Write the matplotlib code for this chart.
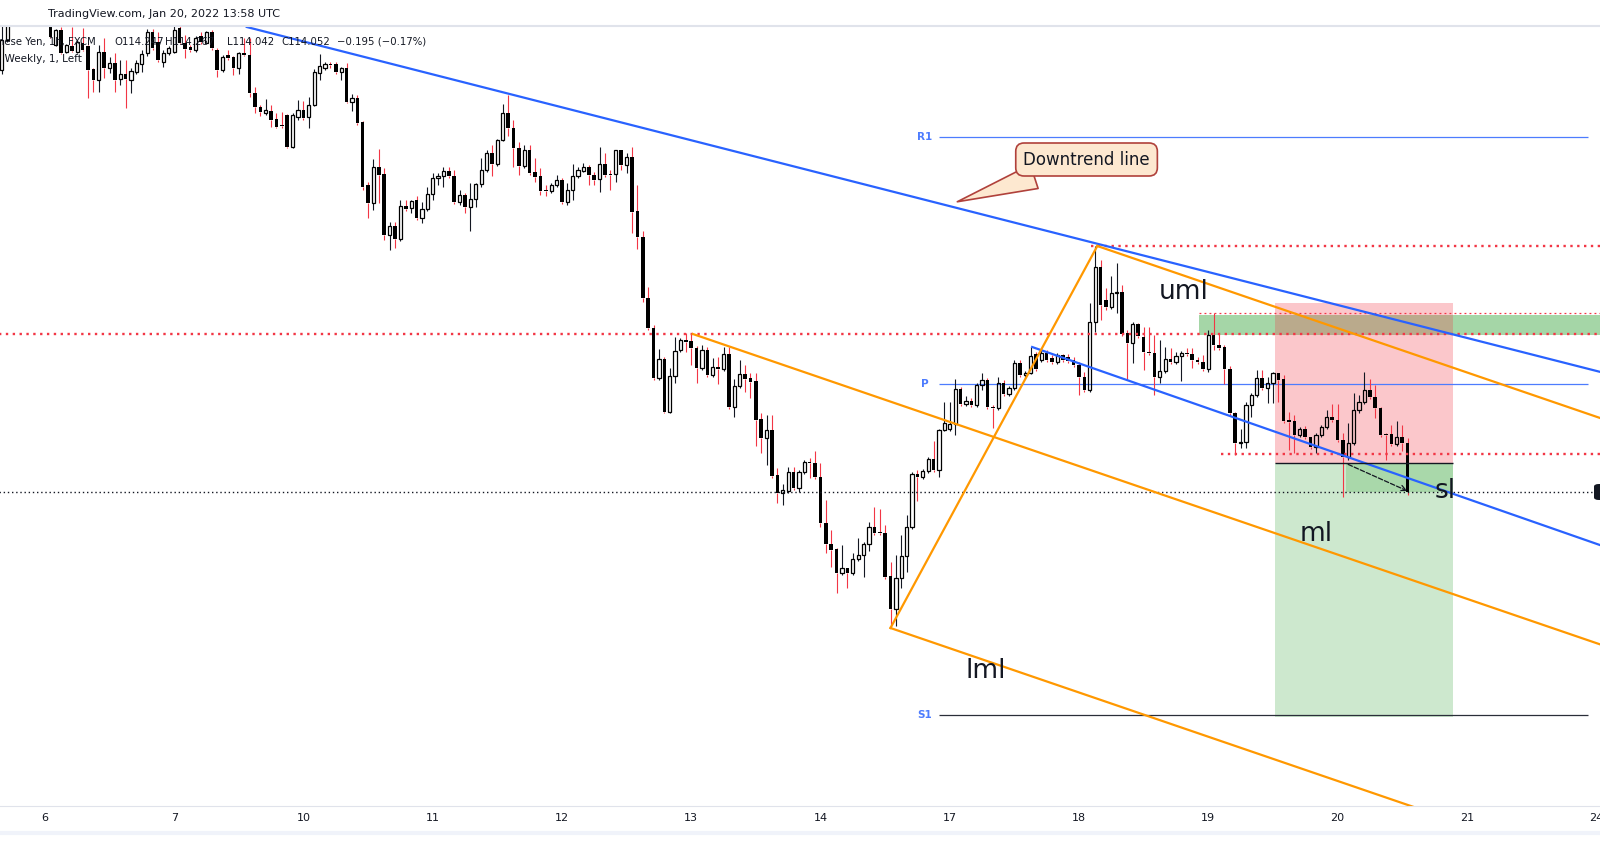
import numpy as np
import matplotlib.pyplot as plt
from matplotlib.patches import FancyBboxPatch

# USD/JPY 1h candles, index 0 = Jan 6 00:00 UTC (weekend bars collapsed)
idx = np.arange(-8, 254)

opens = [115.74, 115.86, 115.948, 115.98, 115.96, 115.988, 115.972, 116.0,
         115.964, 115.924, 115.84, 115.90, 115.812, 115.836, 115.812, 115.848, 115.836, 115.744,
         115.70, 115.812, 115.748, 115.768, 115.704, 115.724, 115.70, 115.732, 115.764, 115.808,
         115.892, 115.852, 115.772, 115.808, 115.812, 115.908, 115.848, 115.832, 115.82, 115.876,
         115.848, 115.892, 115.82, 115.74, 115.80, 115.792, 115.748, 115.808, 115.80, 115.648,
         115.592, 115.568, 115.576, 115.544, 115.52, 115.56, 115.432, 115.552, 115.58, 115.552,
         115.60, 115.728, 115.748, 115.764, 115.764, 115.732, 115.748, 115.612, 115.628, 115.532,
         115.28, 115.208, 115.352, 115.324, 115.08, 115.116, 115.064, 115.196, 115.188, 115.22,
         115.148, 115.184, 115.244, 115.308, 115.316, 115.336, 115.316, 115.212, 115.24, 115.192,
         115.224, 115.284, 115.34, 115.408, 115.364, 115.46, 115.568, 115.508, 115.428, 115.356,
         115.42, 115.332, 115.316, 115.26, 115.256, 115.28, 115.30, 115.212, 115.26, 115.316,
         115.336, 115.352, 115.32, 115.304, 115.364, 115.324, 115.324, 115.42, 115.36, 115.392,
         115.176, 115.072, 114.828, 114.708, 114.508, 114.584, 114.372, 114.516, 114.62, 114.66,
         114.656, 114.628, 114.548, 114.62, 114.52, 114.552, 114.544, 114.604, 114.392, 114.476,
         114.524, 114.508, 114.496, 114.344, 114.268, 114.30, 114.12, 114.048, 114.056, 114.132,
         114.068, 114.132, 114.172, 114.168, 114.112, 113.928, 113.844, 113.824, 113.728, 113.748,
         113.728, 113.784, 113.80, 113.844, 113.912, 113.892, 113.888, 113.716, 113.584, 113.708,
         113.796, 113.912, 114.124, 114.112, 114.136, 114.184, 114.14, 114.30, 114.304, 114.324,
         114.464, 114.404, 114.416, 114.40, 114.48, 114.50, 114.392, 114.388, 114.488, 114.444,
         114.468, 114.568, 114.52, 114.528, 114.604, 114.58, 114.608, 114.588, 114.572, 114.60,
         114.592, 114.58, 114.56, 114.512, 114.46, 114.732, 114.952, 114.82, 114.792, 114.848,
         114.852, 114.688, 114.648, 114.724, 114.672, 114.612, 114.608, 114.512, 114.536, 114.584,
         114.572, 114.596, 114.608, 114.604, 114.58, 114.572, 114.544, 114.68, 114.64, 114.632,
         114.544, 114.368, 114.248, 114.252, 114.40, 114.44, 114.508, 114.468, 114.488, 114.528,
         114.504, 114.34, 114.336, 114.28, 114.304, 114.272, 114.232, 114.28, 114.312, 114.352,
         114.34, 114.26, 114.192, 114.248, 114.38, 114.412, 114.46, 114.432, 114.388, 114.284,
         114.284, 114.244, 114.272, 114.247]

highs = [115.92, 115.98, 116.00, 116.008, 116.02, 116.012, 116.04, 116.02,
         115.988, 115.96, 115.904, 115.912, 115.844, 115.912, 115.86, 115.908, 115.84, 115.748,
         115.84, 115.868, 115.792, 115.808, 115.78, 115.78, 115.748, 115.78, 115.82, 115.904,
         115.904, 115.892, 115.82, 115.836, 115.916, 115.916, 115.88, 115.84, 115.876, 115.892,
         115.896, 115.90, 115.828, 115.80, 115.82, 115.796, 115.812, 115.868, 115.868, 115.672,
         115.60, 115.624, 115.60, 115.568, 115.572, 115.564, 115.568, 115.62, 115.616, 115.632,
         115.744, 115.804, 115.772, 115.772, 115.772, 115.752, 115.768, 115.644, 115.64, 115.536,
         115.292, 115.384, 115.424, 115.348, 115.132, 115.132, 115.22, 115.22, 115.22, 115.236,
         115.212, 115.272, 115.328, 115.328, 115.352, 115.352, 115.34, 115.26, 115.248, 115.288,
         115.288, 115.388, 115.42, 115.44, 115.464, 115.604, 115.64, 115.54, 115.452, 115.44,
         115.44, 115.388, 115.348, 115.28, 115.288, 115.32, 115.308, 115.288, 115.364, 115.352,
         115.368, 115.36, 115.332, 115.432, 115.408, 115.34, 115.42, 115.42, 115.408, 115.432,
         115.28, 115.096, 114.872, 114.72, 114.624, 114.592, 114.548, 114.672, 114.668, 114.688,
         114.688, 114.636, 114.64, 114.632, 114.588, 114.592, 114.632, 114.632, 114.504, 114.58,
         114.56, 114.528, 114.528, 114.368, 114.36, 114.36, 114.148, 114.084, 114.152, 114.152,
         114.14, 114.18, 114.188, 114.216, 114.168, 114.02, 113.90, 113.828, 113.84, 113.748,
         113.808, 113.868, 113.852, 113.932, 113.992, 113.984, 113.92, 113.772, 113.80, 113.88,
         113.96, 114.132, 114.14, 114.144, 114.192, 114.256, 114.304, 114.412, 114.412, 114.504,
         114.472, 114.436, 114.428, 114.488, 114.528, 114.508, 114.40, 114.512, 114.50, 114.476,
         114.58, 114.58, 114.536, 114.632, 114.612, 114.62, 114.62, 114.60, 114.608, 114.604,
         114.604, 114.592, 114.572, 114.532, 114.808, 115.036, 114.98, 114.868, 114.916, 114.968,
         114.88, 114.70, 114.732, 114.728, 114.712, 114.712, 114.68, 114.66, 114.632, 114.628,
         114.612, 114.616, 114.628, 114.628, 114.592, 114.60, 114.70, 114.768, 114.688, 114.64,
         114.556, 114.372, 114.304, 114.412, 114.448, 114.54, 114.54, 114.512, 114.532, 114.528,
         114.52, 114.372, 114.36, 114.312, 114.316, 114.272, 114.288, 114.32, 114.38, 114.404,
         114.404, 114.288, 114.328, 114.448, 114.44, 114.532, 114.504, 114.48, 114.392, 114.288,
         114.32, 114.336, 114.32, 114.267]

lows = [115.724, 115.852, 115.932, 115.94, 115.94, 115.948, 115.956, 115.94,
        115.924, 115.868, 115.836, 115.804, 115.808, 115.812, 115.808, 115.816, 115.628, 115.652,
        115.652, 115.708, 115.728, 115.652, 115.68, 115.588, 115.648, 115.724, 115.732, 115.796,
        115.82, 115.772, 115.752, 115.80, 115.808, 115.844, 115.788, 115.812, 115.812, 115.844,
        115.844, 115.82, 115.712, 115.732, 115.78, 115.72, 115.724, 115.796, 115.632, 115.568,
        115.556, 115.56, 115.512, 115.508, 115.508, 115.428, 115.428, 115.54, 115.54, 115.508,
        115.596, 115.70, 115.74, 115.748, 115.724, 115.70, 115.608, 115.576, 115.52, 115.26,
        115.148, 115.18, 115.208, 115.06, 115.02, 115.028, 115.056, 115.176, 115.168, 115.14,
        115.128, 115.176, 115.22, 115.28, 115.272, 115.308, 115.204, 115.20, 115.168, 115.096,
        115.192, 115.272, 115.332, 115.316, 115.356, 115.456, 115.476, 115.352, 115.32, 115.348,
        115.32, 115.292, 115.24, 115.236, 115.248, 115.272, 115.204, 115.20, 115.22, 115.308,
        115.332, 115.28, 115.28, 115.252, 115.312, 115.26, 115.292, 115.34, 115.328, 115.088,
        115.024, 114.812, 114.70, 114.50, 114.50, 114.368, 114.368, 114.488, 114.612, 114.612,
        114.56, 114.488, 114.54, 114.512, 114.512, 114.484, 114.536, 114.384, 114.352, 114.468,
        114.452, 114.428, 114.236, 114.208, 114.16, 114.108, 114.008, 114.0, 114.048, 114.06,
        114.052, 114.124, 114.108, 114.104, 113.912, 113.808, 113.752, 113.648, 113.72, 113.668,
        113.72, 113.776, 113.712, 113.816, 113.88, 113.88, 113.704, 113.508, 113.516, 113.668,
        113.732, 113.904, 114.016, 114.104, 114.128, 114.132, 114.112, 114.296, 114.296, 114.28,
        114.396, 114.396, 114.392, 114.392, 114.46, 114.384, 114.308, 114.38, 114.436, 114.436,
        114.46, 114.512, 114.512, 114.524, 114.536, 114.572, 114.572, 114.564, 114.564, 114.572,
        114.568, 114.552, 114.44, 114.452, 114.452, 114.692, 114.74, 114.78, 114.784, 114.768,
        114.676, 114.50, 114.568, 114.668, 114.54, 114.60, 114.44, 114.488, 114.528, 114.564,
        114.564, 114.496, 114.596, 114.548, 114.564, 114.536, 114.532, 114.62, 114.62, 114.484,
        114.36, 114.20, 114.228, 114.228, 114.352, 114.432, 114.46, 114.408, 114.408, 114.412,
        114.328, 114.22, 114.208, 114.272, 114.264, 114.224, 114.208, 114.272, 114.304, 114.332,
        114.252, 114.032, 114.18, 114.24, 114.368, 114.404, 114.424, 114.348, 114.272, 114.18,
        114.236, 114.236, 114.216, 114.042]

closes = [115.86, 115.948, 115.98, 115.96, 115.988, 115.972, 116.0, 115.964,
          115.94, 115.872, 115.90, 115.808, 115.84, 115.816, 115.852, 115.82, 115.74, 115.70,
          115.812, 115.748, 115.768, 115.70, 115.724, 115.704, 115.736, 115.768, 115.804, 115.892,
          115.828, 115.78, 115.808, 115.828, 115.90, 115.848, 115.824, 115.82, 115.868, 115.852,
          115.892, 115.828, 115.74, 115.792, 115.788, 115.748, 115.808, 115.80, 115.648, 115.592,
          115.572, 115.58, 115.54, 115.512, 115.516, 115.432, 115.56, 115.58, 115.548, 115.60,
          115.732, 115.756, 115.764, 115.76, 115.732, 115.748, 115.612, 115.628, 115.528, 115.272,
          115.208, 115.352, 115.32, 115.08, 115.116, 115.064, 115.196, 115.184, 115.216, 115.148,
          115.184, 115.244, 115.308, 115.316, 115.336, 115.316, 115.212, 115.24, 115.192, 115.224,
          115.284, 115.34, 115.408, 115.364, 115.46, 115.568, 115.508, 115.428, 115.356, 115.42,
          115.328, 115.312, 115.256, 115.256, 115.28, 115.30, 115.212, 115.26, 115.316, 115.34,
          115.352, 115.32, 115.30, 115.364, 115.32, 115.32, 115.42, 115.36, 115.392, 115.172,
          115.072, 114.828, 114.708, 114.508, 114.584, 114.372, 114.516, 114.616, 114.66, 114.652,
          114.628, 114.548, 114.62, 114.52, 114.552, 114.544, 114.604, 114.392, 114.476, 114.524,
          114.504, 114.492, 114.34, 114.268, 114.30, 114.116, 114.048, 114.06, 114.132, 114.068,
          114.132, 114.172, 114.168, 114.112, 113.928, 113.844, 113.82, 113.728, 113.748, 113.728,
          113.784, 113.80, 113.844, 113.912, 113.888, 113.888, 113.712, 113.584, 113.708, 113.796,
          113.912, 114.124, 114.112, 114.136, 114.184, 114.14, 114.30, 114.328, 114.324, 114.464,
          114.404, 114.416, 114.40, 114.48, 114.50, 114.392, 114.388, 114.488, 114.444, 114.468,
          114.568, 114.52, 114.528, 114.596, 114.544, 114.608, 114.58, 114.572, 114.60, 114.58,
          114.576, 114.56, 114.512, 114.46, 114.732, 114.952, 114.80, 114.792, 114.848, 114.852,
          114.684, 114.648, 114.724, 114.676, 114.612, 114.608, 114.512, 114.536, 114.584, 114.572,
          114.596, 114.608, 114.604, 114.58, 114.572, 114.544, 114.68, 114.64, 114.628, 114.544,
          114.368, 114.248, 114.252, 114.40, 114.44, 114.508, 114.468, 114.488, 114.528, 114.50,
          114.336, 114.332, 114.28, 114.304, 114.272, 114.232, 114.28, 114.312, 114.352, 114.34,
          114.26, 114.192, 114.248, 114.38, 114.412, 114.46, 114.432, 114.388, 114.28, 114.28,
          114.244, 114.272, 114.247, 114.052]

day_ticks = [0, 24, 48, 72, 96, 120, 144, 168, 192, 216, 240, 264, 288]
day_labels = ['6', '7', '10', '11', '12', '13', '14', '17', '18', '19', '20', '21', '24']

# drawings (bar index, price)
trend_pts = [(37.3, 115.913), (195.4, 115.045)]
fork_a = (120.3, 114.684)
fork_b = (157.0, 113.508)
fork_c = (195.4, 115.036)
channel_pts = [(183.3, 114.632), (288.7, 113.84)]
red_levels = [(-9, 114.683), (194.2, 115.036), (218.3, 114.203)]
thin_level = (214.3, 114.767)
zone_band = (214.3, 114.68, 114.76)
pivot_start, pivot_end = 166, 286.5
pivots = {'R1': 115.471, 'P': 114.483, 'S1': 113.159}
pos_start, pos_end, pos_hit = 228.4, 261.4, 241.5
stop_px, entry_px, target_px = 114.807, 114.167, 113.152
labels = [('uml', 211.5, 114.852), ('ml', 236.0, 113.884), ('lml', 174.7, 113.336), ('sl', 260.0, 114.056)]
callout_tip = (169.4, 115.213)
callout_box = (193.4, 115.382)

o, h, l, c = map(np.array, (opens, highs, lows, closes))

W, H = 1600, 868
fig = plt.figure(figsize=(16, 8.68), dpi=100)
ax = fig.add_axes([0, 62 / H, 1, (806 - 27) / H])
ax.set_xlim(-8.336, 288.73)
ax.set_ylim(112.796, 115.912)

def fx(px):
    return px / W

def fy(py):
    return 1 - py / H

# zones
ax.fill_between([zone_band[0], 300], zone_band[1], zone_band[2], color='#4caf50', alpha=0.5, lw=0, zorder=1)
ax.fill_between([pos_start, pos_end], entry_px, stop_px, color='#f23645', alpha=0.275, lw=0, zorder=1)
ax.fill_between([pos_start, pos_end], target_px, entry_px, color='#4caf50', alpha=0.28, lw=0, zorder=1)
ax.fill_between([pos_hit, pos_end], c[-1], entry_px, color='#4caf50', alpha=0.28, lw=0, zorder=1)

# pivots
for name, val in pivots.items():
    col = '#2a2e39' if name == 'S1' else '#4d7cfe'
    ax.hlines(val, pivot_start, pivot_end, color=col, lw=0.9, zorder=2)
    ax.text(163.4, val, name, color='#4d7cfe', fontsize=7.5, fontweight='bold', ha='center', va='center', zorder=5)

# candles
up = c > o
top = np.maximum(o, c)
bot = np.minimum(o, c)
body = np.maximum(top - bot, 0.004)
wick_col = np.where(up, '#131722', '#f23645')
ax.vlines(idx, top, np.maximum(h, top), colors=wick_col, lw=0.8, zorder=3)
ax.vlines(idx, np.minimum(l, bot), bot, colors=wick_col, lw=0.8, zorder=3)
ax.bar(idx[~up], body[~up], bottom=bot[~up], width=0.66, color='black', lw=0, zorder=3)
ax.bar(idx[up], body[up], bottom=bot[up], width=0.6, facecolor='none', edgecolor='black', lw=0.9, zorder=3)

# dotted levels
for x0, val in red_levels:
    ax.hlines(val, x0, 300, color='#f23645', lw=1.7, linestyles=(0, (1, 1.9)), zorder=4)
ax.hlines(thin_level[1], thin_level[0], 300, color='#f23645', lw=0.9, linestyles=(0, (1.5, 2.5)), zorder=4)
ax.hlines(c[-1], -9, 287.2, color='#131722', lw=1, linestyles=(0, (1, 2)), zorder=4)

# trend line and channel
ax.axline(trend_pts[0], trend_pts[1], color='#2962ff', lw=1.6, zorder=4)
cx = [channel_pts[0][0], channel_pts[1][0] + 5]
slope_ch = (channel_pts[1][1] - channel_pts[0][1]) / (channel_pts[1][0] - channel_pts[0][0])
ax.plot(cx, [channel_pts[0][1], channel_pts[0][1] + slope_ch * (cx[1] - cx[0])], color='#2962ff', lw=1.6, zorder=4)

# pitchfork
mid = ((fork_b[0] + fork_c[0]) / 2, (fork_b[1] + fork_c[1]) / 2)
slope = (mid[1] - fork_a[1]) / (mid[0] - fork_a[0])
x_end = 300
for p in (fork_a, fork_b, fork_c):
    ax.plot([p[0], x_end], [p[1], p[1] + slope * (x_end - p[0])], color='#ff9800', lw=1.6, zorder=4)
ax.plot([fork_b[0], fork_c[0]], [fork_b[1], fork_c[1]], color='#ff9800', lw=1.6, zorder=4)

# position tool lines
ax.hlines(entry_px, pos_start, pos_end, color='#131722', lw=1, zorder=4)
ax.annotate('', xy=(253.4, c[-1]), xytext=(pos_hit, entry_px),
            arrowprops=dict(arrowstyle='->', linestyle='--', color='#131722', lw=0.9), zorder=4)

for txt, x, y in labels:
    ax.text(x, y, txt, fontsize=19, color='#131722', ha='center', va='center', zorder=5)

ax.annotate('Downtrend line', xy=callout_tip, xytext=callout_box, ha='center', va='center',
            fontsize=12, color='#131722', zorder=6,
            bbox=dict(boxstyle='round,pad=0.45,rounding_size=0.5', fc='#fde8d0', ec='#b0413b', lw=1.2),
            arrowprops=dict(arrowstyle='wedge,tail_width=1.5,shrink_factor=0.5', fc='#fde8d0',
                            ec='#b0413b', lw=1.2, shrinkA=0, shrinkB=0))

# axes styling
for s in ('top', 'left', 'right'):
    ax.spines[s].set_visible(False)
ax.spines['bottom'].set_color('#e0e3eb')
ax.set_yticks([])
ax.set_xticks(day_ticks)
ax.set_xticklabels(day_labels)
ax.tick_params(axis='x', length=0, pad=5, labelsize=8, labelcolor='#131722')

# header and legend
fig.add_artist(plt.Line2D([0, 1], [fy(26), fy(26)], color='#e0e3eb', lw=1.5))
fig.add_artist(plt.Line2D([0, 1], [fy(833), fy(833)], color='#f0f3fa', lw=3))
fig.text(fx(48), fy(14), 'TradingView.com, Jan 20, 2022 13:58 UTC', fontsize=8, color='#131722', va='center')
chg = c[-1] - c[-2]
legend_parts = [(-2, 'nese Yen, 1h, FXCM'), (114.3, f'O{o[-1]:.3f}'), (165.5, f'H{h[-1]:.3f}'),
                (227.3, f'L{l[-1]:.3f}'), (281.7, f'C{c[-1]:.3f}'),
                (336.7, f'\u2212{abs(chg):.3f} (\u2212{abs(chg) / c[-2] * 100:.2f}%)')]
for px, txt in legend_parts:
    fig.text(fx(px), fy(41.7), txt, fontsize=7.3, color='#131722', va='center')
fig.text(fx(-2), fy(59.3), ', Weekly, 1, Left', fontsize=7.5, color='#131722', va='center')

# last-price badge, cut by the right edge like in the screenshot
badge = FancyBboxPatch((fx(1594), fy(500)), fx(60), 16 / H, boxstyle='round,pad=0,rounding_size=0.003',
                       transform=fig.transFigure, fc='#131722', ec='none')
fig.patches.append(badge)

fig.savefig('out.png', dpi=100, facecolor='white')
